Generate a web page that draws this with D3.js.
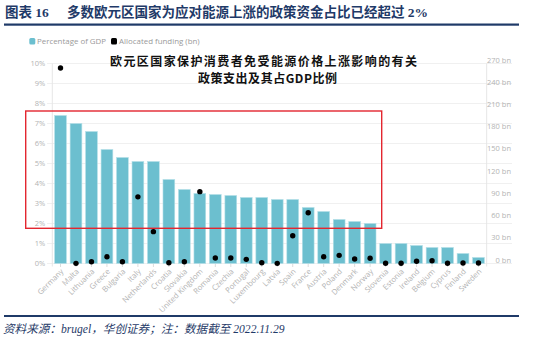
<!DOCTYPE html>
<html>
<head>
<meta charset="utf-8">
<script src="https://cdn.jsdelivr.net/npm/d3@7"></script>
<style>
  body { margin: 0; background: #fff; }
  svg { display: block; }
</style>
</head>
<body>
<div class="graphics"></div>
<script>
// data
var countries = ["Germany", "Malta", "Lithuania", "Greece", "Bulgaria", "Italy", "Netherlands",
    "Croatia", "Slovakia", "United Kingdom", "Romania", "Czechia", "Portugal", "Luxembourg",
    "Latvia", "Spain", "France", "Austria", "Poland", "Denmark", "Norway", "Slovenia",
    "Estonia", "Ireland", "Belgium", "Cyprus", "Finland", "Sweden"];
var gdpShare = [7.4, 7.0, 6.6, 5.7, 5.3, 5.1, 5.1, 4.2, 3.7, 3.5, 3.45, 3.4, 3.3, 3.3,
    3.2, 3.2, 2.8, 2.6, 2.2, 2.1, 2.0, 1.0, 1.0, 0.9, 0.8, 0.8, 0.5, 0.3];
var funding = [264, 0.2, 2.4, 9.2, 2.4, 90, 43, 1.1, 2.4, 97, 7.4, 7.4, 5.6, 1.1,
    0.2, 37.5, 68.5, 9.2, 11, 6, 7, 0.3, 0.3, 3, 3.8, 0.3, 0.7, 0.7];
var pctTicks = [0, 1, 2, 3, 4, 5, 6, 7, 8, 9, 10];
var bnTicks = [0, 30, 60, 90, 120, 150, 180, 210, 240, 270];

function chart(){
    var W = 542, H = 337;
    var plot = {left: 52.3, right: 486.7, top: 63.5, bottom: 263.5};
    var navy = "#1f3a68", gray = "#b3b3b3", grid = "#ececec";
    var latin = "'Open Sans', 'Noto Sans', sans-serif";

    var svg = d3.select(".graphics")
        .append("svg")
        .attr("width", W)
        .attr("height", H);

    // header
    var title = svg.append("text")
        .attr("x", 5)
        .attr("y", 12)
        .attr("dominant-baseline", "central")
        .style("font-family", "'Liberation Serif', 'Noto Sans CJK SC', serif")
        .style("font-weight", "bold")
        .style("font-size", "13.5px")
        .attr("fill", navy);
    title.append("tspan").text("图表 16");
    title.append("tspan").attr("x", 67).text("多数欧元区国家为应对能源上涨的政策资金占比已经超过 2%");

    svg.append("rect").attr("x", 4).attr("y", 23.5).attr("width", 515).attr("height", 2.2).attr("fill", navy);

    // scales
    var x = d3.scaleBand()
        .domain(countries)
        .range([plot.left, plot.right])
        .paddingInner(0.24)
        .paddingOuter(0.15);
    var y = d3.scaleLinear().domain([0, 10]).range([plot.bottom, plot.top]);
    var yR = d3.scaleLinear().domain([0, 270]).range([plot.bottom, plot.top]);

    // grid lines
    svg.selectAll(".grid")
        .data(pctTicks)
        .enter()
        .append("line")
        .attr("x1", 47)
        .attr("x2", 512)
        .attr("y1", function(d) { return y(d); })
        .attr("y2", function(d) { return y(d); })
        .attr("stroke", grid)
        .attr("stroke-width", 0.8);

    svg.append("line").attr("x1", plot.left).attr("x2", plot.left)
        .attr("y1", plot.top).attr("y2", plot.bottom + 3).attr("stroke", "#e6e6e6");
    svg.append("line").attr("x1", plot.right).attr("x2", plot.right)
        .attr("y1", plot.top).attr("y2", plot.bottom + 3).attr("stroke", "#e6e6e6");

    // left axis
    var left = svg.append("g")
        .attr("transform", "translate(" + (plot.left - 7) + ",0)")
        .call(d3.axisLeft(y).tickValues(pctTicks).tickSize(0).tickFormat(function(d) { return d + "%"; }));
    left.select(".domain").remove();
    left.selectAll("text").attr("x", 0).attr("fill", gray).style("font-family", latin).style("font-size", "7.5px");

    // right axis, labels sit a little above their value
    var right = svg.append("g")
        .attr("transform", "translate(511,0)")
        .call(d3.axisLeft(yR).tickValues(bnTicks).tickSize(0).tickFormat(function(d) { return d + " bn"; }));
    right.select(".domain").remove();
    right.selectAll("text").attr("x", 0).attr("dy", "-0.2em").attr("fill", gray)
        .style("font-family", latin).style("font-size", "7.5px");

    // bottom axis
    var bottom = svg.append("g")
        .attr("transform", "translate(0," + plot.bottom + ")")
        .call(d3.axisBottom(x).tickSize(3.5));
    bottom.select(".domain").remove();
    bottom.selectAll("line").attr("stroke", "#dcdcdc");
    bottom.selectAll("text")
        .attr("y", 0)
        .attr("dy", 0)
        .attr("transform", "translate(3.5,8.5) rotate(-45)")
        .style("text-anchor", "end")
        .attr("fill", gray)
        .style("font-family", latin)
        .style("font-size", "7.7px");

    // bars
    svg.selectAll(".bar")
        .data(countries)
        .enter()
        .append("rect")
        .attr("x", function(d) { return x(d); })
        .attr("width", x.bandwidth())
        .attr("y", function(d, i) { return y(gdpShare[i]); })
        .attr("height", function(d, i) { return y(0) - y(gdpShare[i]); })
        .attr("fill", "#6cbfcf")
        .attr("stroke", "#b4e0e8")
        .attr("stroke-width", 0.6);

    // funding dots
    svg.selectAll(".dot")
        .data(countries)
        .enter()
        .append("circle")
        .attr("cx", function(d) { return x(d) + x.bandwidth() / 2; })
        .attr("cy", function(d, i) { return yR(funding[i]); })
        .attr("r", 2.7)
        .attr("fill", "#000");

    // legend
    svg.append("rect").attr("x", 29.3).attr("y", 38).attr("width", 6).attr("height", 6.5).attr("rx", 1.5).attr("fill", "#6cbfcf");
    svg.append("text").attr("x", 37).attr("y", 41.3).attr("dominant-baseline", "central")
        .attr("fill", "#9a9a9a").style("font-family", latin).style("font-size", "7.9px").text("Percentage of GDP");
    svg.append("rect").attr("x", 111).attr("y", 38).attr("width", 6).attr("height", 6.5).attr("rx", 1.5).attr("fill", "#000");
    svg.append("text").attr("x", 119).attr("y", 41.3).attr("dominant-baseline", "central")
        .attr("fill", "#9a9a9a").style("font-family", latin).style("font-size", "7.9px").text("Allocated funding (bn)");

    // inner chinese title
    var inner = ["欧元区国家保护消费者免受能源价格上涨影响的有关", "政策支出及其占GDP比例"];
    svg.append("text").attr("x", 110).attr("y", 60).attr("dominant-baseline", "central")
        .attr("textLength", 307).attr("lengthAdjust", "spacing")
        .style("font-family", "'Noto Sans CJK SC', sans-serif").style("font-weight", "bold")
        .style("font-size", "12px").attr("fill", "#111").text(inner[0]);
    svg.append("text").attr("x", 198).attr("y", 77).attr("dominant-baseline", "central")
        .attr("textLength", 139).attr("lengthAdjust", "spacing")
        .style("font-family", "'Noto Sans CJK SC', sans-serif").style("font-weight", "bold")
        .style("font-size", "12px").attr("fill", "#111").text(inner[1]);

    // red highlight box
    svg.append("rect")
        .attr("x", 25.7).attr("y", 111).attr("width", 356).attr("height", 117.3)
        .attr("fill", "none").attr("stroke", "#e3262f").attr("stroke-width", 1.4);

    // footer
    svg.append("rect").attr("x", 4).attr("y", 315).attr("width", 515).attr("height", 2).attr("fill", navy);
    svg.append("text").attr("x", 3).attr("y", 329).attr("dominant-baseline", "central")
        .style("font-family", "'Liberation Serif', 'Noto Sans CJK SC', serif")
        .style("font-style", "italic").style("font-size", "11.6px")
        .attr("fill", navy)
        .text("资料来源：brugel，华创证券；注：数据截至 2022.11.29");
}

chart();
</script>
</body>
</html>
